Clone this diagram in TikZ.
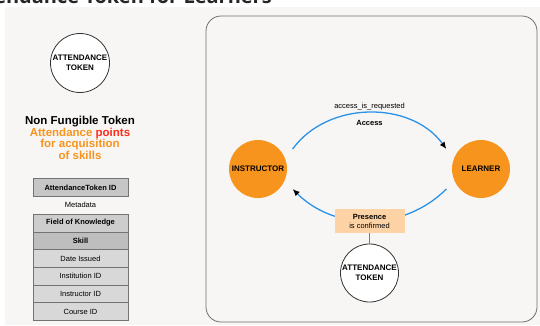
\documentclass[tikz,border=0pt]{standalone}
\usepackage{fontspec}
\setmainfont{Liberation Sans}
\newfontfamily\headfont{Open Sans}
\usepackage{tikz}
\usetikzlibrary{positioning,arrows.meta}
\definecolor{paper}{HTML}{F8F6F4}
\definecolor{frame}{HTML}{6E6E6E}
\definecolor{role}{HTML}{F7941D}
\definecolor{flow}{HTML}{2A93E8}
\definecolor{peach}{HTML}{FDD3A6}
\definecolor{ptsred}{HTML}{FF2D1E}
\definecolor{cellhd}{HTML}{C6C6C6}
\definecolor{cellfk}{HTML}{CDCDCD}
\definecolor{cellsk}{HTML}{BEBEBE}
\definecolor{cellrw}{HTML}{D8D8D8}

\begin{document}
\begin{tikzpicture}[x=1pt,y=1pt,>=Latex,
  tok/.style={circle,draw=black!80,fill=white,line width=0.8pt,minimum size=59pt,inner sep=0pt,align=center,font=\fontsize{8}{10}\selectfont\bfseries},
  role/.style={circle,fill=role,minimum size=58pt,inner sep=0pt,outer sep=11pt,font=\fontsize{8}{10}\selectfont\bfseries},
  cell/.style={draw=black!55,line width=0.6pt,fill=cellrw,minimum width=95pt,minimum height=17.7pt,inner sep=0pt,outer sep=0pt,font=\fontsize{7.5}{9}\selectfont},
  hcell/.style={cell,fill=cellhd,font=\fontsize{7.5}{9}\selectfont\bfseries},
  lbl/.style={inner sep=1pt,text=black,font=\fontsize{7.5}{9}\selectfont},
  flw/.style={flow,line width=1.3pt,-{Latex[black,length=7pt,width=6pt]}}]

\useasboundingbox (0,0) rectangle (540,-325);
\fill[paper] (5,-7) rectangle (540,-325);
\node[anchor=base east,inner sep=0pt,text=black!85,font=\headfont\bfseries\fontsize{20}{24}\selectfont] (title) at (272,-3.6) {Attendance Token for Learners};

% ---- left: token and its metadata
\node[tok] (tokL) at (80,-63) {ATTENDANCE\\TOKEN};
\node[align=center,inner sep=0pt,font=\fontsize{11.5}{11.7}\selectfont\bfseries] (nft) at (80,-138)
  {Non Fungible Token\\\textcolor{role}{Attendance} \textcolor{ptsred}{points}\\\textcolor{role}{for acquisition}\\\textcolor{role}{of skills}};

\node[hcell] (tid) at (80.5,-187.5) {AttendanceToken ID};
\node[lbl] (meta) at (80.5,-205) {Metadata};
\node[hcell,fill=cellfk] (fok) at (80.5,-223) {Field of Knowledge};
\node[hcell,fill=cellsk,below=0pt of fok] (skill) {Skill};
\node[cell,below=0pt of skill] (date) {Date Issued};
\node[cell,below=0pt of date] (inst) {Institution ID};
\node[cell,below=0pt of inst] (instr) {Instructor ID};
\node[cell,below=0pt of instr] (course) {Course ID};

% ---- right: access and presence
\draw[frame,line width=0.8pt,rounded corners=15pt] (206,-16) rectangle (537,-322);
\node[role] (ins) at (258,-169) {INSTRUCTOR};
\node[role] (lrn) at (481,-169) {LEARNER};
\draw[flw] (ins.30) to[out=54,in=126]
  node[midway,above=1pt,lbl] (req) {access\_is\_requested}
  node[midway,below=6pt,lbl,font=\fontsize{7.5}{9}\selectfont\bfseries] (acc) {Access} (lrn.150);
\draw[flw] (lrn.210) to[out=-135,in=-45] (ins.-30);
\node[lbl,fill=peach,minimum width=70pt,minimum height=24pt,align=center] (prs) at (369.5,-221) {\textbf{Presence}\\is confirmed};
\node[tok,minimum size=58pt] (tokB) at (369.5,-273) {ATTENDANCE\\TOKEN};
\draw[flow,line width=1.3pt] (prs) -- (tokB);
\end{tikzpicture}
\end{document}
